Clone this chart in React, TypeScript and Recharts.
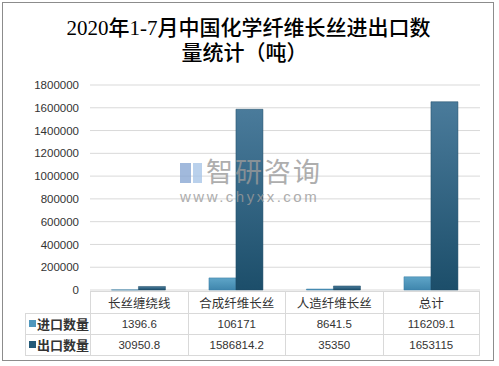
import { BarChart, Bar, XAxis, YAxis, CartesianGrid } from "recharts";

const categories = ["长丝缠绕线", "合成纤维长丝", "人造纤维长丝", "总计"];
const importValues = [1396.6, 106171, 8641.5, 116209.1];
const exportValues = [30950.8, 1586814.2, 35350, 1653115];
const yTicks = [0, 200000, 400000, 600000, 800000, 1000000, 1200000, 1400000, 1600000, 1800000];
const seriesNames = ["进口数量", "出口数量"];

const data = categories.map((name, i) => ({
  name,
  import: importValues[i],
  export: exportValues[i],
}));

const W = 499;
const H = 366;
const PLOT_LEFT = 90;
const PLOT_RIGHT = 480;
const PLOT_TOP = 85;
const PLOT_BOTTOM = 290;

const sans = "'Liberation Sans', 'Noto Sans CJK SC', sans-serif";
const border = "1px solid #d9d9d9";

function DataTable() {
  const colW = (PLOT_RIGHT - PLOT_LEFT) / categories.length;
  const rows = [
    { label: seriesNames[0], values: importValues, color: "#4f97bd" },
    { label: seriesNames[1], values: exportValues, color: "#245a78" },
  ];
  const rowH = 21.5;
  return (
    <div style={{ position: "absolute", left: 25, top: PLOT_BOTTOM + 1, fontFamily: sans, color: "#333" }}>
      <div style={{ display: "flex", marginLeft: PLOT_LEFT - 25 }}>
        {categories.map((c, i) => (
          <div
            key={c}
            style={{
              width: colW, height: rowH, boxSizing: "border-box",
              borderTop: border, borderLeft: border,
              borderRight: i === categories.length - 1 ? border : undefined,
              display: "flex", alignItems: "center", justifyContent: "center",
              fontSize: 12.5,
            }}
          >
            {c}
          </div>
        ))}
      </div>
      {rows.map((r, ri) => (
        <div key={r.label} style={{ display: "flex" }}>
          <div
            style={{
              width: PLOT_LEFT - 25, height: rowH, boxSizing: "border-box",
              borderTop: border, borderLeft: border,
              borderBottom: ri === rows.length - 1 ? border : undefined,
              display: "flex", alignItems: "center", fontSize: 13, fontWeight: "bold",
            }}
          >
            <span style={{ display: "inline-block", width: 7, height: 7, background: r.color, marginLeft: 3, marginRight: 1 }} />
            {r.label}
          </div>
          {r.values.map((v, i) => (
            <div
              key={i}
              style={{
                width: colW, height: rowH, boxSizing: "border-box",
                borderTop: border, borderLeft: border,
                borderRight: i === r.values.length - 1 ? border : undefined,
                borderBottom: ri === rows.length - 1 ? border : undefined,
                display: "flex", alignItems: "center", justifyContent: "center",
                fontSize: 11.5,
              }}
            >
              {v}
            </div>
          ))}
        </div>
      ))}
    </div>
  );
}

export default function App() {
  return (
    <div style={{ position: "fixed", left: 0, top: 0, width: W, height: H, background: "#fff" }}>
      <div
        style={{
          position: "absolute", left: 2, top: 2, width: 492, height: 359,
          border: "1px solid #8c8c8c", boxSizing: "border-box",
        }}
      />
      <div
        style={{
          position: "absolute", left: 0, top: 16, width: W - 2, textAlign: "center",
          fontFamily: "'Liberation Serif', 'Noto Sans CJK SC', serif", fontSize: 21,
          fontWeight: 500, lineHeight: "25px", color: "#000",
        }}
      >
        <div>2020年1-7月中国化学纤维长丝进出口数</div>
        <div style={{ marginLeft: -8 }}>量统计（吨）</div>
      </div>
      <BarChart
        width={W}
        height={H}
        data={data}
        margin={{ top: PLOT_TOP, right: W - PLOT_RIGHT, bottom: H - PLOT_BOTTOM, left: 10 }}
        barCategoryGap="22%"
        barGap={0}
      >
        <defs>
          <linearGradient id="impGrad" x1="0" y1="0" x2="0" y2="1">
            <stop offset="0%" stopColor="#5fa5c8" />
            <stop offset="100%" stopColor="#3f86ad" />
          </linearGradient>
          <linearGradient id="expGrad" x1="0" y1="0" x2="0" y2="1">
            <stop offset="0%" stopColor="#4a7b9b" />
            <stop offset="100%" stopColor="#1c4e6a" />
          </linearGradient>
        </defs>
        <CartesianGrid stroke="#d9d9d9" vertical={false} />
        <XAxis dataKey="name" hide />
        <YAxis
          width={80}
          domain={[0, 1800000]}
          ticks={yTicks}
          interval={0}
          tickLine={false}
          axisLine={false}
          tickMargin={5}
          tick={{ fontSize: 11.5, fill: "#333", fontFamily: sans }}
        />
        <Bar dataKey="import" name={seriesNames[0]} fill="url(#impGrad)" stroke="#3a7ea5" strokeWidth={0.5} isAnimationActive={false} />
        <Bar dataKey="export" name={seriesNames[1]} fill="url(#expGrad)" stroke="#1c4a64" strokeWidth={0.5} isAnimationActive={false} />
      </BarChart>
      <div style={{ position: "absolute", left: 180, top: 158, color: "#9a9a9a", opacity: 0.8, fontFamily: sans, pointerEvents: "none" }}>
        <div style={{ fontSize: 27, lineHeight: "30px", letterSpacing: 2, display: "flex", alignItems: "center" }}>
          <span style={{ display: "inline-flex", gap: 2, marginRight: 4 }}>
            <span style={{ width: 11, height: 20, background: "#8aa8d4" }} />
            <span style={{ width: 9, height: 20, background: "#a9c6e8" }} />
          </span>
          智研咨询
        </div>
        <div style={{ fontSize: 15, letterSpacing: 2.5, lineHeight: "18px" }}>www.chyxx.com</div>
      </div>
      <DataTable />
    </div>
  );
}
